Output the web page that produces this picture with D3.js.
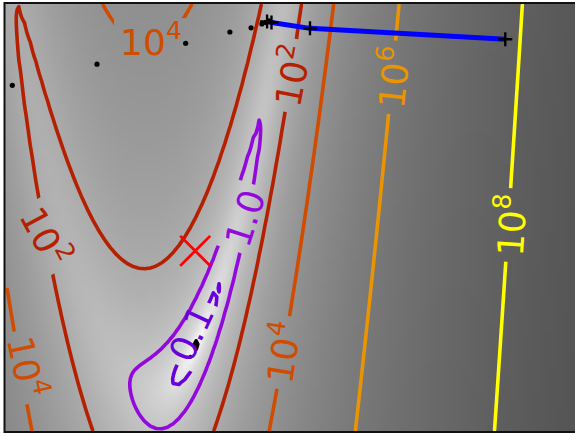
<!DOCTYPE html>
<html><head><meta charset="utf-8">
<script src="https://cdn.jsdelivr.net/npm/d3@7"></script>
<style>
html,body{margin:0;padding:0;background:#fff;}
svg{display:block;}
text{font-family:"DejaVu Sans",sans-serif;}
</style></head><body>
<svg id="chart" width="575" height="436"></svg>
<script>
// ---------- data ----------
// field extent (x0 horizontal, x1 vertical) and grid resolution
const xExtent = [-1, 2];
const yExtent = [-0.95, 1.3];
const gridN = 100;
// contour levels of log(f + 0.01)
const levels = [-4, -2, 0, 2, 4, 6, 8];
// contour labels: level, position (data coords), angle
const labelLevel = [4, 2, 6, 8, 4, 2, 4, 0, -2];
const labelX = [-0.232, 0.492, 1.022, 1.640, 0.445, -0.772, -0.868, 0.261, -0.022];
const labelY = [1.116, 0.922, 0.912, 0.136, -0.530, 0.083, -0.604, 0.172, -0.431];
const labelAngle = [0, -79, -84, -86, -81, 62, 78, -72, -65];
// optimizer iterates
const pathX = [1.626, 0.602, 0.400, 0.377];
const pathY = [1.110, 1.167, 1.198, 1.203];
// function evaluations
const evalX = [-0.959, -0.515, -0.050, 0.182, 0.293, 0.350, 0.371, 0.387];
const evalY = [0.868, 0.979, 1.089, 1.148, 1.170, 1.190, 1.198, 1.206];
// target
const targetX = [0];
const targetY = [0];

// Rosenbrock field (the plotted function)
function rosen(a, b) {
  const y0 = 4 * a + 1, y1 = 4 * b + 3;
  return 0.5 * (1 - y0) * (1 - y0) + (y1 - y0 * y0) * (y1 - y0 * y0);
}

// ---------- setup ----------
const W = 575, H = 436;
const svg = d3.select("#chart");
const xs = d3.scaleLinear().domain(xExtent).range([4.5, 576.6]);
const ys = d3.scaleLinear().domain(yExtent).range([432, 3]);

const values = new Float64Array(gridN * gridN);
for (let i = 0; i < gridN; i++) {
  const b = yExtent[0] + (yExtent[1] - yExtent[0]) * i / (gridN - 1);
  for (let j = 0; j < gridN; j++) {
    const a = xExtent[0] + (xExtent[1] - xExtent[0]) * j / (gridN - 1);
    values[i * gridN + j] = Math.log(rosen(a, b) + 0.01);
  }
}
const vmin = d3.min(values), vmaxData = d3.max(values);
const vmax = vmin + 1.5 * (vmaxData - vmin);

// background image (gray_r)
const cv = document.createElement("canvas");
cv.width = gridN; cv.height = gridN;
const ctx = cv.getContext("2d");
const img = ctx.createImageData(gridN, gridN);
for (let r = 0; r < gridN; r++) {
  const i = gridN - 1 - r;
  for (let j = 0; j < gridN; j++) {
    const t = Math.max(0, Math.min(1, (values[i * gridN + j] - vmin) / (vmax - vmin)));
    const g = Math.round(255 * (1 - t));
    const k = (r * gridN + j) * 4;
    img.data[k] = g; img.data[k + 1] = g; img.data[k + 2] = g; img.data[k + 3] = 255;
  }
}
ctx.putImageData(img, 0, 0);

const defs = svg.append("defs");
defs.append("clipPath").attr("id", "axclip").append("rect")
  .attr("x", xs(xExtent[0])).attr("y", ys(yExtent[1]))
  .attr("width", xs(xExtent[1]) - xs(xExtent[0])).attr("height", ys(yExtent[0]) - ys(yExtent[1]));

const plot = svg.append("g").attr("clip-path", "url(#axclip)");
plot.append("image")
  .attr("href", cv.toDataURL())
  .attr("x", xs(xExtent[0])).attr("y", ys(yExtent[1]))
  .attr("width", xs(xExtent[1]) - xs(xExtent[0]))
  .attr("height", ys(yExtent[0]) - ys(yExtent[1]))
  .attr("preserveAspectRatio", "none");

// gnuplot colormap
function gnuplot(t) {
  const r = Math.sqrt(t), g = t * t * t, b = Math.max(0, Math.min(1, Math.sin(2 * Math.PI * t)));
  return d3.rgb(255 * r, 255 * g, 255 * b).formatHex();
}
const lmin = d3.min(levels), lmax = d3.max(levels);
const colorOf = L => gnuplot((L - lmin) / (lmax - lmin));

// labels (measured first, placed above contours)
const labelG = svg.append("g");
const labelNodes = labelLevel.map((L, k) => {
  const cx = xs(labelX[k]), cy = ys(labelY[k]);
  const t = labelG.append("text")
    .attr("transform", `translate(${cx},${cy}) rotate(${labelAngle[k]})`)
    .attr("text-anchor", "middle")
    .attr("fill", colorOf(L))
    .style("font-size", "36px");
  if (L >= 2) {
    t.attr("y", 17);
    t.append("tspan").text("10");
    t.append("tspan").attr("dy", -16).style("font-size", "25px").text(String(L));
  } else {
    t.attr("y", 13);
    t.text(L === 0 ? "1.0" : "0.1");
  }
  return {node: t.node(), cx, cy, L, angle: labelAngle[k]};
});

// masks per level (inline label gaps)
levels.forEach((L, li) => {
  const m = defs.append("mask").attr("id", "mask" + li)
    .attr("maskUnits", "userSpaceOnUse")
    .attr("x", 0).attr("y", 0).attr("width", W).attr("height", H);
  m.append("rect").attr("x", 0).attr("y", 0).attr("width", W).attr("height", H).attr("fill", "#fff");
  labelNodes.filter(d => d.L === L).forEach(d => {
    const w = d.node.getComputedTextLength() + 12;
    const h = 40;
    m.append("rect")
      .attr("x", -w / 2).attr("y", -h / 2).attr("width", w).attr("height", h)
      .attr("transform", `translate(${d.cx},${d.cy}) rotate(${d.angle})`)
      .attr("fill", "#000");
  });
});

// contours
const contours = d3.contours().size([gridN, gridN]).thresholds(levels)(values);
const gx = c => xExtent[0] + c * (xExtent[1] - xExtent[0]) / gridN;
const gy = c => yExtent[0] + c * (yExtent[1] - yExtent[0]) / gridN;
const line = d3.line().x(p => xs(gx(p[0]))).y(p => ys(gy(p[1])));
const isB = p => p[0] <= 0 || p[0] >= gridN || p[1] <= 0 || p[1] >= gridN;

function ringToLines(ring) {
  let pts = ring.slice();
  const f = pts[0], l = pts[pts.length - 1];
  if (f[0] === l[0] && f[1] === l[1]) pts.pop();
  const n = pts.length;
  let start = -1;
  for (let k = 0; k < n; k++) {
    if (isB(pts[k])) { start = k; break; }
  }
  if (start < 0) return [pts.concat([pts[0]])];
  const out = []; let cur = [];
  for (let m = 0; m < n; m++) {
    const p = pts[(start + m) % n], q = pts[(start + m + 1) % n];
    if (isB(p) || isB(q)) {
      if (cur.length > 1) out.push(cur);
      cur = [];
    } else {
      if (cur.length === 0) cur.push(p);
      cur.push(q);
    }
  }
  if (cur.length > 1) out.push(cur);
  return out;
}

contours.forEach(c => {
  const li = levels.indexOf(c.value);
  const g = plot.append("g").attr("mask", `url(#mask${li})`);
  c.coordinates.forEach(poly => poly.forEach(ring => {
    ringToLines(ring).forEach(pl => {
      g.append("path").attr("d", line(pl))
        .attr("fill", "none").attr("stroke", colorOf(c.value))
        .attr("stroke-width", 3.6).attr("stroke-linejoin", "round").attr("stroke-linecap", "round");
    });
  }));
});

// labels above contours (not clipped)
svg.node().appendChild(labelG.node());

const marks = svg.append("g").attr("clip-path", "url(#axclip)");
// optimizer path
const pathPts = pathX.map((x, k) => [x, pathY[k]]);
marks.append("path")
  .attr("d", d3.line().x(d => xs(d[0])).y(d => ys(d[1]))(pathPts))
  .attr("fill", "none").attr("stroke", "#0000ff").attr("stroke-width", 5)
  .attr("stroke-linejoin", "round");
marks.append("g").selectAll("path").data(pathPts).join("path")
  .attr("d", d => `M${xs(d[0]) - 7},${ys(d[1])}h14M${xs(d[0])},${ys(d[1]) - 7}v14`)
  .attr("stroke", "#000").attr("stroke-width", 2.4);

// evaluations
marks.append("g").selectAll("circle").data(evalX.map((x, k) => [x, evalY[k]])).join("circle")
  .attr("cx", d => xs(d[0])).attr("cy", d => ys(d[1])).attr("r", 2.6).attr("fill", "#000");

// target
marks.append("g").selectAll("path").data(targetX.map((x, k) => [x, targetY[k]])).join("path")
  .attr("d", d => `M${xs(d[0]) - 15},${ys(d[1]) - 15}l30,30M${xs(d[0]) - 15},${ys(d[1]) + 15}l30,-30`)
  .attr("stroke", "#ff0000").attr("stroke-width", 2.8);

// frame
svg.append("rect")
  .attr("x", xs(xExtent[0])).attr("y", ys(yExtent[1]))
  .attr("width", xs(xExtent[1]) - xs(xExtent[0])).attr("height", ys(yExtent[0]) - ys(yExtent[1]))
  .attr("fill", "none").attr("stroke", "#111").attr("stroke-width", 2);
</script>
</body></html>
